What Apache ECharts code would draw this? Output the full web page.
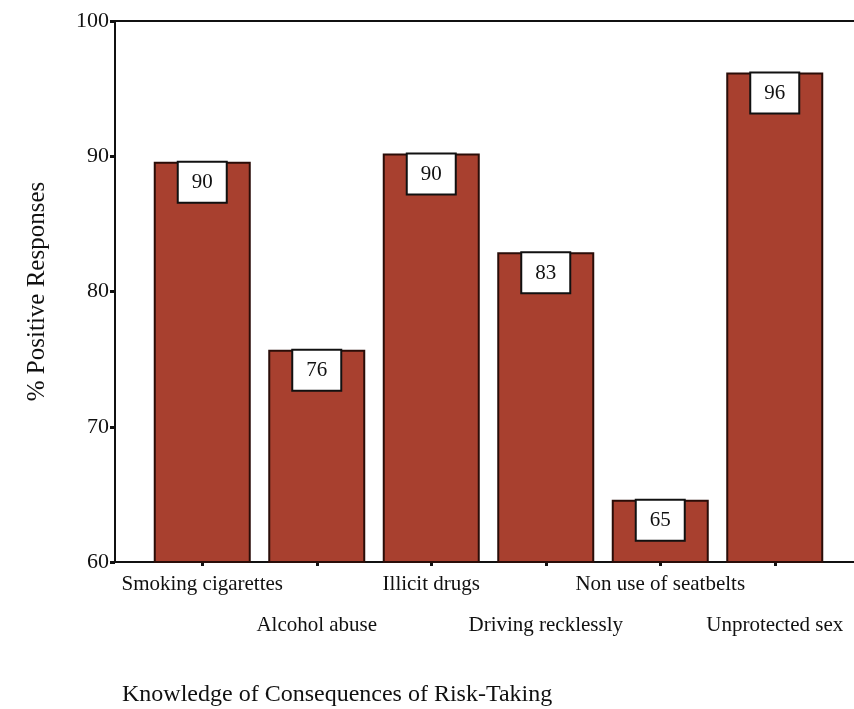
<!DOCTYPE html>
<html><head><meta charset="utf-8">
<script src="https://cdn.jsdelivr.net/npm/echarts@6/dist/echarts.min.js"></script>
<style>html,body{margin:0;padding:0;background:#fff}#c{width:854px;height:709px}</style>
</head><body><div id="c"></div>
<script>
var categories = ['Smoking cigarettes','Alcohol abuse','Illicit drugs','Driving recklessly','Non use of seatbelts','Unprotected sex'];
var values = [89.6, 75.7, 90.2, 82.9, 64.6, 96.2];
var valueLabels = ['90','76','90','83','65','96'];
var yTicks = [60, 70, 80, 90, 100];

var serif = 'Liberation Serif, Times New Roman, serif';
var chart = echarts.init(document.getElementById('c'));
chart.setOption({
  animation: false,
  backgroundColor: '#fff',
  grid: [
    {left: 115, right: 0, top: 21, bottom: 147},
    {left: 145, right: 22, top: 21, bottom: 147}
  ],
  title: {
    text: 'Knowledge of Consequences of Risk-Taking',
    left: 117, top: 678,
    textStyle: {fontFamily: serif, fontSize: 24, fontWeight: 'normal', color: '#111'}
  },
  xAxis: [
    {gridIndex: 0, type: 'value', min: 0, max: 1, position: 'bottom',
     axisLine: {show: true, lineStyle: {color: '#111', width: 2}}, axisTick: {show: false},
     axisLabel: {show: false}, splitLine: {show: false}},
    {gridIndex: 0, type: 'value', min: 0, max: 1, position: 'top',
     axisLine: {show: true, lineStyle: {color: '#111', width: 2}}, axisTick: {show: false},
     axisLabel: {show: false}, splitLine: {show: false}},
    {gridIndex: 1, type: 'category', data: categories, position: 'bottom',
     axisLine: {show: false},
     axisTick: {show: true, alignWithLabel: true, length: 4, lineStyle: {color: '#111', width: 3}},
     axisLabel: {interval: 0, fontFamily: serif, fontSize: 21, color: '#111', margin: 2, lineHeight: 41,
       formatter: function (v, i) { return i % 2 === 1 ? '\n' + v : v; }}}
  ],
  yAxis: [
    {gridIndex: 0, type: 'value', min: yTicks[0], max: yTicks[yTicks.length-1], interval: 10,
     axisLine: {show: true, lineStyle: {color: '#111', width: 2}},
     axisTick: {show: true, length: 5, lineStyle: {color: '#111', width: 3}},
     axisLabel: {fontFamily: serif, fontSize: 22, color: '#111', margin: 6},
     splitLine: {show: false},
     name: '% Positive Responses', nameLocation: 'middle', nameGap: 65, nameRotate: 90,
     nameTextStyle: {fontFamily: serif, fontSize: 25, color: '#111'}},
    {gridIndex: 1, type: 'value', min: yTicks[0], max: yTicks[yTicks.length-1], interval: 10, show: false}
  ],
  series: [{
    type: 'bar', xAxisIndex: 2, yAxisIndex: 1,
    data: values, barWidth: 97,
    itemStyle: {color: '#a8402f', borderColor: '#2a0d08', borderWidth: 2},
    label: {show: true, position: 'insideTop', distance: 1,
      formatter: function (p) { return valueLabels[p.dataIndex]; },
      fontFamily: serif, fontSize: 21, color: '#111', lineHeight: 22,
      backgroundColor: '#fff', borderColor: '#111', borderWidth: 2,
      padding: [9, 13, 8, 13]}
  }]
});
</script></body></html>
